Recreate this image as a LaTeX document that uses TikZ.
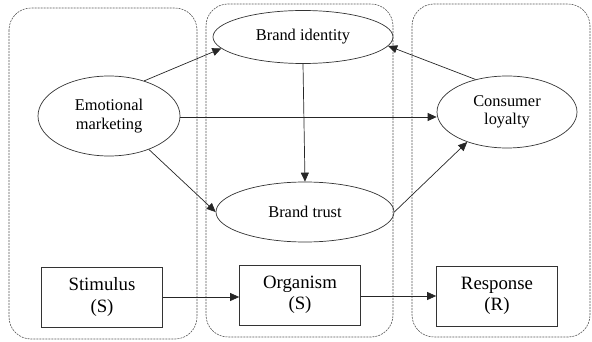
\documentclass[tikz,border=0pt]{standalone}
\usepackage{fontspec}
\setmainfont{Liberation Serif}
\usetikzlibrary{shapes.geometric,arrows.meta}
\begin{document}
\begin{tikzpicture}[x=1pt,y=-1pt,
  grp/.style={draw=black!65, dash pattern=on 2pt off 1pt, line width=0.6pt, rounded corners=22pt},
  ell/.style={draw=black!80, ellipse, line width=0.7pt, inner sep=0pt, align=center,
    font=\fontsize{16.4}{18.5}\selectfont},
  box/.style={draw=black!80, rectangle, line width=0.7pt, inner sep=0pt, align=center,
    minimum width=121pt, minimum height=60pt, font=\fontsize{18.8}{21.5}\selectfont},
  arr/.style={draw=black!85, line width=0.7pt, -{Triangle[length=9pt,width=8pt]}}]
\useasboundingbox (0,0) rectangle (592,342);
% group frames
\draw[grp] (9,8) rectangle (197,339);
\draw[grp] (206,4) rectangle (393,337);
\draw[grp] (412,4) rectangle (590,337);
% ellipses
\node[ell, minimum width=142pt, minimum height=80pt] (em) at (109,116) {Emotional\\marketing};
\node[ell, minimum width=180pt, minimum height=53pt] (bi) at (303,37) {Brand identity};
\node[ell, minimum width=140pt, minimum height=72pt] (cl) at (507,112) {Consumer\\loyalty};
\node[ell, minimum width=178pt, minimum height=60pt] (bt) at (305,212) {Brand trust};
% boxes
\node[box] (st) at (102,297) {Stimulus\\(S)};
\node[box] (or) at (300,295) {Organism\\(S)};
\node[box] (re) at (497,296) {Response\\(R)};
% connectors
\draw[arr] (em.45) -- (bi.188);
\draw[arr] (em.east |- 0,117) -- (cl.west |- 0,117);
\draw[arr] (em.-40) -- (bt.west);
\draw[arr] (bi.south) -- (bt.north);
\draw[arr] (cl.134) -- (bi.-6);
\draw[arr] (bt.east) -- (cl.-143);
\draw[arr] (st.east) -- (or.west |- st.east);
\draw[arr] (or.east |- re.west) -- (re.west);
\end{tikzpicture}
\end{document}
